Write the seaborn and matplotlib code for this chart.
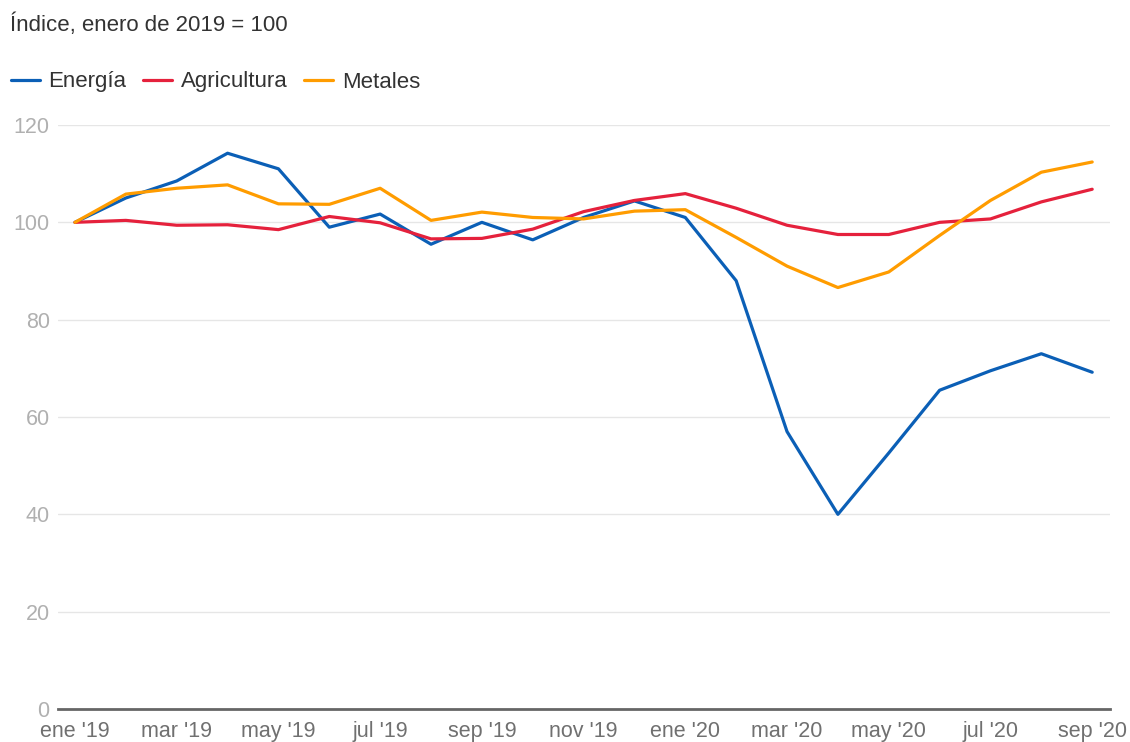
import numpy as np
import pandas as pd
import matplotlib
matplotlib.use("Agg")
import matplotlib.pyplot as plt
import seaborn as sns

# Datos (índice, enero de 2019 = 100)
meses = ["ene '19", "feb '19", "mar '19", "abr '19", "may '19", "jun '19", "jul '19",
         "ago '19", "sep '19", "oct '19", "nov '19", "dic '19", "ene '20", "feb '20",
         "mar '20", "abr '20", "may '20", "jun '20", "jul '20", "ago '20", "sep '20"]
energia = [100, 105, 108.5, 114.2, 111, 99, 101.7, 95.5, 100, 96.4, 101, 104.4,
           101, 88, 57, 40, 52.6, 65.5, 69.5, 73, 69.2]
agricultura = [100, 100.4, 99.4, 99.5, 98.5, 101.2, 99.9, 96.6, 96.7, 98.6, 102.2, 104.5,
               105.9, 102.9, 99.4, 97.5, 97.5, 100, 100.7, 104.2, 106.8]
metales = [100, 105.8, 107, 107.7, 103.8, 103.7, 107, 100.4, 102.1, 101, 100.7, 102.3,
           102.6, 96.9, 91, 86.6, 89.8, 97.3, 104.5, 110.3, 112.4]

series = ["Energía", "Agricultura", "Metales"]
colores = ["#0b5fb6", "#e5213c", "#ff9c00"]

df = pd.DataFrame({
    "mes": list(range(len(meses))) * 3,
    "valor": energia + agricultura + metales,
    "serie": [s for s in series for _ in meses],
})

sns.set_style("white")
plt.rcParams["font.family"] = ["Liberation Sans", "DejaVu Sans"]

fig = plt.figure(figsize=(11.3, 7.42), dpi=100)
ax = fig.add_axes([58 / 1130, 1 - 709 / 742, (1110 - 58) / 1130, (709 - 125) / 742])

sns.lineplot(data=df, x="mes", y="valor", hue="serie", hue_order=series,
             palette=colores, linewidth=2.3, ax=ax, legend=False)

ax.set_ylim(0, 120)
ax.set_xlim(-0.334, 20.35)
ax.set_yticks([0, 20, 40, 60, 80, 100, 120])
ax.set_xticks(range(0, 21, 2))
ax.set_xticklabels(meses[::2])
ax.grid(axis="y", color="#e6e6e6", linewidth=1)
ax.set_axisbelow(True)
for s in ["top", "right", "left"]:
    ax.spines[s].set_visible(False)
ax.spines["bottom"].set_color("#666666")
ax.spines["bottom"].set_linewidth(2)
ax.tick_params(axis="y", length=0, pad=6, labelsize=15.5, labelcolor="#b0b0b0")
ax.tick_params(axis="x", length=0, pad=8.5, labelsize=15.5, labelcolor="#707070")
ax.set_xlabel("")
ax.set_ylabel("")

fig.text(10 / 1130, 1 - 25 / 742, "Índice, enero de 2019 = 100", fontsize=16,
         color="#333333", va="center", ha="left")

handles = [plt.Line2D([0], [0], color=c, linewidth=2.3) for c in colores]
fig.legend(handles, series, loc="center left", bbox_to_anchor=(4 / 1130, 1 - 82 / 742),
           ncol=3, frameon=False, fontsize=16, handlelength=1.3, handletextpad=0.4,
           columnspacing=0.75, labelcolor="#333333", borderaxespad=0, borderpad=0.3)

fig.savefig("out.png", dpi=100)
